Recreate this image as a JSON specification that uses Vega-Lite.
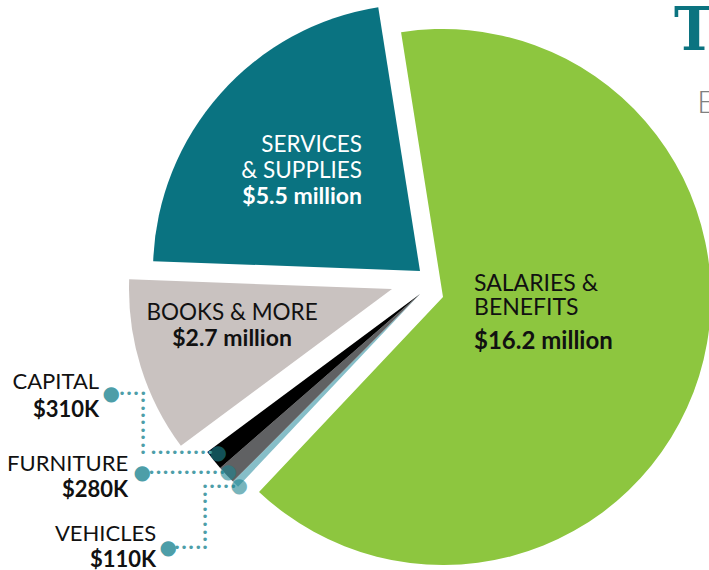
{
  "$schema": "https://vega.github.io/schema/vega-lite/v6.json",
  "width": 578,
  "height": 560,
  "autosize": {"type": "none"},
  "padding": {"left": 131, "top": 10, "right": 0, "bottom": 0},
  "background": "white",
  "config": {"view": {"stroke": null}},
  "title": {
    "text": "Total",
    "subtitle": "\u2800Expenditures",
    "anchor": "start",
    "frame": "group",
    "orient": "top",
    "dx": 543,
    "offset": -113,
    "font": "DejaVu Serif Condensed, DejaVu Serif",
    "fontSize": 60,
    "fontWeight": "bold",
    "color": "#0b7380",
    "subtitleFont": "Lato, DejaVu Sans",
    "subtitleFontSize": 32,
    "subtitleFontWeight": 300,
    "subtitleColor": "#808080",
    "subtitlePadding": 25
  },
  "data": {
    "values": [
      {"i": 1, "category": "Salaries", "value": 16.2, "name": "SALARIES &\nBENEFITS", "amount": "$16.2 million"},
      {"i": 2, "category": "Vehicles", "value": 0.11, "name": "VEHICLES", "amount": "$110K"},
      {"i": 3, "category": "Furniture", "value": 0.28, "name": "FURNITURE", "amount": "$280K"},
      {"i": 4, "category": "Capital", "value": 0.31, "name": "CAPITAL", "amount": "$310K"},
      {"i": 5, "category": "Books", "value": 2.7, "name": "BOOKS & MORE", "amount": "$2.7 million"},
      {"i": 6, "category": "Services", "value": 5.5, "name": "SERVICES\n& SUPPLIES", "amount": "$5.5 million"}
    ]
  },
  "layer": [
    {
      "transform": [
        {"stack": "value", "groupby": [], "sort": [{"field": "i", "order": "ascending"}], "as": ["v0", "v1"]},
        {"filter": "datum.category === 'Salaries'"}
      ],
      "mark": {"type": "arc", "radius": 268, "xOffset": 23, "yOffset": 7},
      "encoding": {
        "theta": {"field": "v0", "type": "quantitative", "scale": {"domain": [0, 25.1], "range": [-0.1571, 6.1261]}},
        "theta2": {"field": "v1"},
        "color": {"field": "category", "type": "nominal", "legend": null,
          "scale": {"domain": ["Salaries", "Vehicles", "Furniture", "Capital", "Books", "Services"],
                    "range": ["#8dc63f", "#86bec8", "#606163", "#000000", "#c9c2c0", "#0a7381"]}}
      }
    },
    {
      "transform": [
        {"stack": "value", "groupby": [], "sort": [{"field": "i", "order": "ascending"}], "as": ["v0", "v1"]},
        {"filter": "indexof(['Vehicles','Furniture','Capital'], datum.category) >= 0"}
      ],
      "mark": {"type": "arc", "radius": 265, "xOffset": 0, "yOffset": 4},
      "encoding": {
        "theta": {"field": "v0", "type": "quantitative"},
        "theta2": {"field": "v1"},
        "color": {"field": "category", "type": "nominal", "legend": null}
      }
    },
    {
      "transform": [
        {"stack": "value", "groupby": [], "sort": [{"field": "i", "order": "ascending"}], "as": ["v0", "v1"]},
        {"filter": "datum.category === 'Books'"}
      ],
      "mark": {"type": "arc", "radius": 263, "xOffset": -28, "yOffset": -1},
      "encoding": {
        "theta": {"field": "v0", "type": "quantitative"},
        "theta2": {"field": "v1"},
        "color": {"field": "category", "type": "nominal", "legend": null}
      }
    },
    {
      "transform": [
        {"stack": "value", "groupby": [], "sort": [{"field": "i", "order": "ascending"}], "as": ["v0", "v1"]},
        {"filter": "datum.category === 'Services'"}
      ],
      "mark": {"type": "arc", "radius": 267, "xOffset": 0, "yOffset": -19},
      "encoding": {
        "theta": {"field": "v0", "type": "quantitative"},
        "theta2": {"field": "v1"},
        "color": {"field": "category", "type": "nominal", "legend": null}
      }
    },
    {
      "mark": {"type": "text", "radius": 60, "align": "left", "baseline": "alphabetic", "dx": -3.3, "dy": -16.7, "font": "Lato", "fontSize": 23, "fontWeight": "normal", "color": "#111111", "lineBreak": "\n", "lineHeight": 24},
      "encoding": {
        "theta": {"field": "value", "type": "quantitative", "stack": true},
        "order": {"field": "i"},
        "text": {"condition": {"test": "datum.category === 'Salaries'", "field": "name"}, "value": ""}
      }
    },
    {
      "mark": {"type": "text", "radius": 60, "align": "left", "baseline": "alphabetic", "dx": -3.3, "dy": 41, "font": "Lato", "fontSize": 24, "fontWeight": "bold", "color": "#111111"},
      "encoding": {
        "theta": {"field": "value", "type": "quantitative", "stack": true},
        "order": {"field": "i"},
        "text": {"condition": {"test": "datum.category === 'Salaries'", "field": "amount"}, "value": ""}
      }
    },
    {
      "mark": {"type": "text", "radius": 150, "align": "right", "baseline": "alphabetic", "dx": 54.2, "dy": -38.5, "font": "Lato", "fontSize": 22.5, "fontWeight": "normal", "color": "#ffffff", "lineBreak": "\n", "lineHeight": 26},
      "encoding": {
        "theta": {"field": "value", "type": "quantitative", "stack": true},
        "order": {"field": "i"},
        "text": {"condition": {"test": "datum.category === 'Services'", "field": "name"}, "value": ""}
      }
    },
    {
      "mark": {"type": "text", "radius": 150, "align": "right", "baseline": "alphabetic", "dx": 54.2, "dy": 13.5, "font": "Lato", "fontSize": 23, "fontWeight": "bold", "color": "#ffffff"},
      "encoding": {
        "theta": {"field": "value", "type": "quantitative", "stack": true},
        "order": {"field": "i"},
        "text": {"condition": {"test": "datum.category === 'Services'", "field": "amount"}, "value": ""}
      }
    },
    {
      "mark": {"type": "text", "radius": 190, "align": "center", "baseline": "alphabetic", "dx": -6.5, "dy": -26.3, "font": "Lato", "fontSize": 22.5, "fontWeight": "normal", "color": "#111111"},
      "encoding": {
        "theta": {"field": "value", "type": "quantitative", "stack": true},
        "order": {"field": "i"},
        "text": {"condition": {"test": "datum.category === 'Books'", "field": "name"}, "value": ""}
      }
    },
    {
      "mark": {"type": "text", "radius": 190, "align": "center", "baseline": "alphabetic", "dx": -6.5, "dy": 0, "font": "Lato", "fontSize": 23, "fontWeight": "bold", "color": "#111111"},
      "encoding": {
        "theta": {"field": "value", "type": "quantitative", "stack": true},
        "order": {"field": "i"},
        "text": {"condition": {"test": "datum.category === 'Books'", "field": "amount"}, "value": ""}
      }
    },
    {
      "mark": {"type": "text", "radius": 257, "align": "right", "baseline": "middle", "dx": -6.1, "dy": 2, "font": "DejaVu Sans", "fontSize": 12, "color": "#4d9ea8"},
      "encoding": {
        "theta": {"field": "value", "type": "quantitative", "stack": true},
        "order": {"field": "i"},
        "text": {"condition": {"test": "datum.category === 'Capital'", "value": "•••••••••"}, "value": ""}
      }
    },
    {
      "mark": {"type": "text", "radius": 257, "align": "center", "baseline": "middle", "dx": -76.7, "dy": -50, "font": "DejaVu Sans", "fontSize": 12, "color": "#4d9ea8", "lineBreak": "|", "lineHeight": 7.4},
      "encoding": {
        "theta": {"field": "value", "type": "quantitative", "stack": true},
        "order": {"field": "i"},
        "text": {"condition": {"test": "datum.category === 'Capital'", "value": "•|•|•|•|•|•|•|•"}, "value": ""}
      }
    },
    {
      "mark": {"type": "text", "radius": 257, "align": "right", "baseline": "middle", "dx": -73.1, "dy": -57, "font": "DejaVu Sans", "fontSize": 12, "color": "#4d9ea8"},
      "encoding": {
        "theta": {"field": "value", "type": "quantitative", "stack": true},
        "order": {"field": "i"},
        "text": {"condition": {"test": "datum.category === 'Capital'", "value": "••••"}, "value": ""}
      }
    },
    {
      "mark": {"type": "text", "radius": 257, "align": "right", "baseline": "middle", "dx": -6.5, "dy": 7.6, "font": "DejaVu Sans", "fontSize": 12, "color": "#4d9ea8"},
      "encoding": {
        "theta": {"field": "value", "type": "quantitative", "stack": true},
        "order": {"field": "i"},
        "text": {"condition": {"test": "datum.category === 'Furniture'", "value": "•••••••••••"}, "value": ""}
      }
    },
    {
      "mark": {"type": "text", "radius": 257, "align": "right", "baseline": "middle", "dx": -4.3, "dy": 12.6, "font": "DejaVu Sans", "fontSize": 12, "color": "#4d9ea8"},
      "encoding": {
        "theta": {"field": "value", "type": "quantitative", "stack": true},
        "order": {"field": "i"},
        "text": {"condition": {"test": "datum.category === 'Vehicles'", "value": "••••"}, "value": ""}
      }
    },
    {
      "mark": {"type": "text", "radius": 257, "align": "center", "baseline": "middle", "dx": -35.9, "dy": 12.6, "font": "DejaVu Sans", "fontSize": 12, "color": "#4d9ea8", "lineBreak": "|", "lineHeight": 7.6},
      "encoding": {
        "theta": {"field": "value", "type": "quantitative", "stack": true},
        "order": {"field": "i"},
        "text": {"condition": {"test": "datum.category === 'Vehicles'", "value": "•|•|•|•|•|•|•|•|•"}, "value": ""}
      }
    },
    {
      "mark": {"type": "text", "radius": 257, "align": "right", "baseline": "middle", "dx": -39.3, "dy": 73.6, "font": "DejaVu Sans", "fontSize": 12, "color": "#4d9ea8"},
      "encoding": {
        "theta": {"field": "value", "type": "quantitative", "stack": true},
        "order": {"field": "i"},
        "text": {"condition": {"test": "datum.category === 'Vehicles'", "value": "••••"}, "value": ""}
      }
    },
    {
      "mark": {"type": "text", "radius": 257, "align": "center", "baseline": "middle", "dx": -1.7, "dy": 2, "font": "DejaVu Sans", "fontSize": 20, "color": "#1f8591", "opacity": 0.6},
      "encoding": {
        "theta": {"field": "value", "type": "quantitative", "stack": true},
        "order": {"field": "i"},
        "text": {"condition": {"test": "datum.category === 'Capital'", "value": "●"}, "value": ""}
      }
    },
    {
      "mark": {"type": "text", "radius": 257, "align": "center", "baseline": "middle", "dx": -4, "dy": 6.6, "font": "DejaVu Sans", "fontSize": 20, "color": "#1f8591", "opacity": 0.6},
      "encoding": {
        "theta": {"field": "value", "type": "quantitative", "stack": true},
        "order": {"field": "i"},
        "text": {"condition": {"test": "datum.category === 'Furniture'", "value": "●"}, "value": ""}
      }
    },
    {
      "mark": {"type": "text", "radius": 257, "align": "center", "baseline": "middle", "dx": -1.9, "dy": 11.6, "font": "DejaVu Sans", "fontSize": 20, "color": "#1f8591", "opacity": 0.6},
      "encoding": {
        "theta": {"field": "value", "type": "quantitative", "stack": true},
        "order": {"field": "i"},
        "text": {"condition": {"test": "datum.category === 'Vehicles'", "value": "●"}, "value": ""}
      }
    },
    {
      "mark": {"type": "text", "radius": 257, "align": "center", "baseline": "middle", "dx": -108.7, "dy": -57, "font": "DejaVu Sans", "fontSize": 20, "color": "#4d9ea8"},
      "encoding": {
        "theta": {"field": "value", "type": "quantitative", "stack": true},
        "order": {"field": "i"},
        "text": {"condition": {"test": "datum.category === 'Capital'", "value": "●"}, "value": ""}
      }
    },
    {
      "mark": {"type": "text", "radius": 257, "align": "center", "baseline": "middle", "dx": -90.1, "dy": 7.6, "font": "DejaVu Sans", "fontSize": 20, "color": "#4d9ea8"},
      "encoding": {
        "theta": {"field": "value", "type": "quantitative", "stack": true},
        "order": {"field": "i"},
        "text": {"condition": {"test": "datum.category === 'Furniture'", "value": "●"}, "value": ""}
      }
    },
    {
      "mark": {"type": "text", "radius": 257, "align": "center", "baseline": "middle", "dx": -72.9, "dy": 73.6, "font": "DejaVu Sans", "fontSize": 20, "color": "#4d9ea8"},
      "encoding": {
        "theta": {"field": "value", "type": "quantitative", "stack": true},
        "order": {"field": "i"},
        "text": {"condition": {"test": "datum.category === 'Vehicles'", "value": "●"}, "value": ""}
      }
    },
    {
      "mark": {"type": "text", "radius": 257, "align": "right", "baseline": "alphabetic", "dx": -120.7, "dy": -62, "font": "Lato", "fontSize": 22, "fontWeight": "normal", "color": "#111111"},
      "encoding": {
        "theta": {"field": "value", "type": "quantitative", "stack": true},
        "order": {"field": "i"},
        "text": {"condition": {"test": "datum.category === 'Capital'", "field": "name"}, "value": ""}
      }
    },
    {
      "mark": {"type": "text", "radius": 257, "align": "right", "baseline": "alphabetic", "dx": -120.7, "dy": -34, "font": "Lato", "fontSize": 22, "fontWeight": "bold", "color": "#111111"},
      "encoding": {
        "theta": {"field": "value", "type": "quantitative", "stack": true},
        "order": {"field": "i"},
        "text": {"condition": {"test": "datum.category === 'Capital'", "field": "amount"}, "value": ""}
      }
    },
    {
      "mark": {"type": "text", "radius": 257, "align": "right", "baseline": "alphabetic", "dx": -104.1, "dy": 5.6, "font": "Lato", "fontSize": 22, "fontWeight": "normal", "color": "#111111"},
      "encoding": {
        "theta": {"field": "value", "type": "quantitative", "stack": true},
        "order": {"field": "i"},
        "text": {"condition": {"test": "datum.category === 'Furniture'", "field": "name"}, "value": ""}
      }
    },
    {
      "mark": {"type": "text", "radius": 257, "align": "right", "baseline": "alphabetic", "dx": -104.1, "dy": 31.6, "font": "Lato", "fontSize": 22, "fontWeight": "bold", "color": "#111111"},
      "encoding": {
        "theta": {"field": "value", "type": "quantitative", "stack": true},
        "order": {"field": "i"},
        "text": {"condition": {"test": "datum.category === 'Furniture'", "field": "amount"}, "value": ""}
      }
    },
    {
      "mark": {"type": "text", "radius": 257, "align": "right", "baseline": "alphabetic", "dx": -84.9, "dy": 66.6, "font": "Lato", "fontSize": 22, "fontWeight": "normal", "color": "#111111"},
      "encoding": {
        "theta": {"field": "value", "type": "quantitative", "stack": true},
        "order": {"field": "i"},
        "text": {"condition": {"test": "datum.category === 'Vehicles'", "field": "name"}, "value": ""}
      }
    },
    {
      "mark": {"type": "text", "radius": 257, "align": "right", "baseline": "alphabetic", "dx": -84.9, "dy": 92.6, "font": "Lato", "fontSize": 22, "fontWeight": "bold", "color": "#111111"},
      "encoding": {
        "theta": {"field": "value", "type": "quantitative", "stack": true},
        "order": {"field": "i"},
        "text": {"condition": {"test": "datum.category === 'Vehicles'", "field": "amount"}, "value": ""}
      }
    }
  ]
}
